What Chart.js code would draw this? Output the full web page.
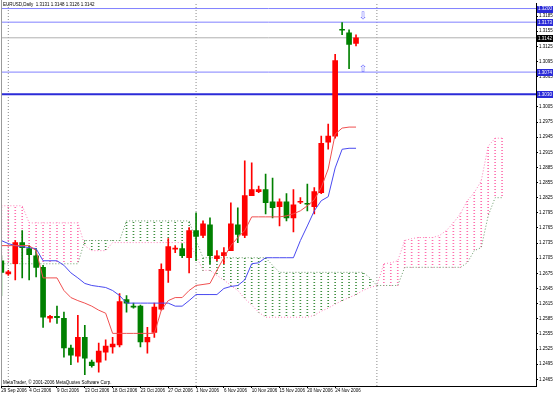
<!DOCTYPE html>
<html>
<head>
  <meta charset="utf-8" />
  <title>EURUSD Daily</title>
  <style>
    html, body { margin: 0; padding: 0; background: #fff; }
    canvas { display: block; }
  </style>
</head>
<body>
  <canvas id="stage" width="553" height="393"></canvas>

  <script src="https://cdn.jsdelivr.net/npm/chart.js@4.4.1/dist/chart.umd.min.js"></script>
  <script>
    // 日足のローソク足 (0 = 29 Sep 2006, 日曜足あり)
    const open  = [1.2700,1.2674,1.2694,1.2736,1.2724,1.2710,1.2687,1.2586,1.2590,1.2586,
                   1.2527,1.2511,1.2548,1.2499,1.2499,1.2519,1.2529,1.2533,1.2623,1.2610,
                   1.2610,1.2539,1.2558,1.2604,1.2681,1.2723,1.2724,1.2706,1.2760,1.2750,
                   1.2771,1.2704,1.2710,1.2720,1.2771,1.2750,1.2829,1.2837,1.2841,1.2817,
                   1.2807,1.2817,1.2785,1.2816,1.2814,1.2807,1.2835,1.2935,1.2947,1.3159,
                   1.3152,1.3131];
    const high  = [1.2710,1.2681,1.2740,1.2760,1.2730,1.2724,1.2691,1.2592,1.2610,1.2598,
                   1.2533,1.2592,1.2572,1.2503,1.2537,1.2543,1.2548,1.2635,1.2631,1.2616,
                   1.2612,1.2568,1.2616,1.2694,1.2744,1.2730,1.2734,1.2766,1.2795,1.2779,
                   1.2785,1.2720,1.2726,1.2815,1.2805,1.2898,1.2894,1.2848,1.2872,1.2864,
                   1.2823,1.2833,1.2841,1.2825,1.2852,1.2845,1.2947,1.2971,1.3109,1.3172,
                   1.3158,1.3148];
    const low   = [1.2631,1.2671,1.2662,1.2666,1.2662,1.2668,1.2568,1.2578,1.2576,1.2509,
                   1.2494,1.2499,1.2474,1.2489,1.2479,1.2503,1.2517,1.2529,1.2598,1.2606,
                   1.2529,1.2517,1.2548,1.2602,1.2657,1.2716,1.2706,1.2676,1.2700,1.2746,
                   1.2694,1.2700,1.2694,1.2720,1.2736,1.2746,1.2829,1.2835,1.2793,1.2785,
                   1.2769,1.2779,1.2757,1.2813,1.2799,1.2793,1.2833,1.2921,1.2943,1.3148,
                   1.3081,1.3126];
    const close = [1.2677,1.2678,1.2736,1.2726,1.2712,1.2687,1.2588,1.2590,1.2587,1.2527,
                   1.2513,1.2548,1.2507,1.2492,1.2521,1.2531,1.2535,1.2619,1.2616,1.2608,
                   1.2539,1.2548,1.2608,1.2683,1.2728,1.2725,1.2710,1.2760,1.2748,1.2773,
                   1.2710,1.2710,1.2716,1.2773,1.2752,1.2829,1.2841,1.2841,1.2815,1.2805,
                   1.2817,1.2785,1.2811,1.2818,1.2812,1.2837,1.2933,1.2947,1.3097,1.3157,
                   1.3129,1.3142];

    // 一目均衡表
    const tenkan = [1.2730,1.2730,1.2730,1.2730,1.2730,1.2720,1.2666,1.2666,1.2666,1.2641,
                    1.2627,1.2621,1.2616,1.2610,1.2602,1.2596,1.2556,1.2556,1.2556,1.2556,
                    1.2556,1.2556,1.2556,1.2602,1.2621,1.2627,1.2627,1.2641,1.2651,1.2653,
                    1.2655,1.2681,1.2706,1.2730,1.2746,1.2760,1.2787,1.2787,1.2787,1.2787,
                    1.2787,1.2789,1.2793,1.2799,1.2809,1.2821,1.2845,1.2882,1.2951,1.2963,
                    1.2965,1.2965];
    const kijun  = [1.2740,1.2734,1.2730,1.2728,1.2726,1.2724,1.2700,1.2700,1.2700,1.2691,
                    1.2676,1.2666,1.2655,1.2651,1.2649,1.2647,1.2641,1.2631,1.2616,1.2616,
                    1.2616,1.2616,1.2616,1.2616,1.2616,1.2610,1.2610,1.2621,1.2633,1.2633,
                    1.2633,1.2633,1.2645,1.2649,1.2651,1.2662,1.2694,1.2696,1.2706,1.2706,
                    1.2706,1.2706,1.2706,1.2740,1.2769,1.2799,1.2819,1.2827,1.2884,1.2921,
                    1.2923,1.2923];
    // 先行スパン (26本先まで)
    const spanA  = [1.2809,1.2809,1.2809,1.2809,1.2775,1.2775,1.2775,1.2775,1.2775,1.2775,
                    1.2775,1.2775,1.2730,1.2720,1.2720,1.2720,1.2736,1.2736,1.2736,1.2736,
                    1.2736,1.2736,1.2736,1.2736,1.2736,1.2736,1.2736,1.2736,1.2710,1.2681,
                    1.2681,1.2671,1.2662,1.2651,1.2641,1.2625,1.2612,1.2598,1.2588,1.2588,
                    1.2588,1.2588,1.2588,1.2588,1.2588,1.2592,1.2600,1.2606,1.2614,1.2621,
                    1.2627,1.2633,1.2641,1.2647,1.2651,1.2694,1.2696,1.2700,1.2740,1.2744,
                    1.2746,1.2746,1.2746,1.2750,1.2760,1.2775,1.2793,1.2819,1.2835,1.2858,
                    1.2927,1.2943,1.2943];
    const spanB  = [1.2694,1.2694,1.2694,1.2694,1.2694,1.2694,1.2694,1.2694,1.2694,1.2694,
                    1.2694,1.2694,1.2740,1.2740,1.2740,1.2740,1.2740,1.2740,1.2779,1.2779,
                    1.2779,1.2779,1.2779,1.2779,1.2779,1.2779,1.2779,1.2779,1.2740,1.2706,
                    1.2706,1.2706,1.2706,1.2706,1.2706,1.2706,1.2706,1.2706,1.2706,1.2691,
                    1.2677,1.2677,1.2677,1.2677,1.2677,1.2677,1.2677,1.2677,1.2677,1.2677,
                    1.2677,1.2677,1.2677,1.2666,1.2651,1.2651,1.2651,1.2651,1.2687,1.2687,
                    1.2687,1.2687,1.2687,1.2687,1.2687,1.2687,1.2687,1.2696,1.2720,1.2726,
                    1.2789,1.2825,1.2825];

    // 軸ラベル
    const xTickIdx    = [0, 4, 8, 12, 16, 20, 24, 28, 32, 36, 40, 44, 48];
    const xTickLabels = ['29 Sep 2006','4 Oct 2006','9 Oct 2006','13 Oct 2006','18 Oct 2006',
                         '23 Oct 2006','27 Oct 2006','1 Nov 2006','6 Nov 2006','10 Nov 2006',
                         '15 Nov 2006','20 Nov 2006','24 Nov 2006'];
    const yTickLabels = ['1.3185','1.3155','1.3125','1.3095','1.3065','1.3005','1.2975','1.2945',
                         '1.2915','1.2885','1.2855','1.2825','1.2795','1.2765','1.2735','1.2705',
                         '1.2675','1.2645','1.2615','1.2585','1.2555','1.2525','1.2495','1.2465'];
    const monthStartIdx = [1, 28, 54];        // 1 Oct, 1 Nov, 1 Dec
    const levelPrices   = [1.3200, 1.3173, 1.3074, 1.3030];
    const bidPrice      = 1.3142;
    const arrowIdx      = [52, 52];
    const arrowPrice    = [1.3184, 1.3079];
    const arrowGlyph    = ['\u21E9', '\u21E7'];

    const X_MIN = -0.05, X_MAX = 76.88;
    const Y_MIN = 1.24517, Y_MAX = 1.32096;
    const UP = '#ff0000', DOWN = '#008000';
    const FONT = '"Liberation Sans", Arial, sans-serif';

    // 縦の点線ハッチ用パターン
    function dotPattern(color) {
      const c = document.createElement('canvas');
      c.width = 1; c.height = 3;
      const g = c.getContext('2d');
      g.fillStyle = color;
      g.fillRect(0, 0, 1, 1);
      return g.createPattern(c, 'repeat');
    }

    const candleColors = open.map((o, i) => close[i] >= o ? UP : DOWN);
    const pts = arr => arr.map((v, i) => ({x: i, y: v}));
    const hline = (v) => [{x: X_MIN - 1, y: v}, {x: X_MAX + 1, y: v}];

    const datasets = [
      {
        type: 'bar', order: 20, grouped: false, barThickness: 1, borderWidth: 0,
        data: spanA.flatMap((a, i) => a > spanB[i] ? [{x: i, y: [spanB[i], a]}] : []),
        backgroundColor: dotPattern('#ff6fae'),
      },
      {
        type: 'bar', order: 20, grouped: false, barThickness: 1, borderWidth: 0,
        data: spanA.flatMap((a, i) => a <= spanB[i] ? [{x: i, y: [a, spanB[i]]}] : []),
        backgroundColor: dotPattern('#3f8f3f'),
      },
      { type: 'line', order: 19, data: pts(spanA), borderColor: '#ff7fb8', borderWidth: 1, borderDash: [1, 2], pointRadius: 0 },
      { type: 'line', order: 19, data: pts(spanB), borderColor: '#6a9a6a', borderWidth: 1, borderDash: [1, 2], pointRadius: 0 },
      ...monthStartIdx.map(m => ({
        type: 'line', order: 18, data: [{x: m, y: Y_MIN}, {x: m, y: Y_MAX}],
        borderColor: '#8a8a8a', borderWidth: 1, borderDash: [1, 2], pointRadius: 0,
      })),
      ...levelPrices.map((v, k) => ({
        type: 'line', order: 17, data: hline(v),
        borderColor: k === 3 ? '#2b2bd8' : '#8080ff', borderWidth: k === 3 ? 2 : 1, pointRadius: 0,
      })),
      { type: 'line', order: 17, data: hline(bidPrice), borderColor: '#b0b0b0', borderWidth: 1, pointRadius: 0 },
      {
        type: 'bar', order: 10, grouped: false, barThickness: 1, borderWidth: 0,
        data: low.map((l, i) => ({x: i, y: [l, high[i]]})),
        backgroundColor: candleColors,
      },
      {
        type: 'bar', order: 9, grouped: false, barThickness: 5, borderWidth: 0, minBarLength: 1,
        data: open.map((o, i) => ({x: i, y: [o, close[i]]})),
        backgroundColor: candleColors,
      },
      { type: 'line', order: 5, data: pts(tenkan), borderColor: '#f05050', borderWidth: 1, pointRadius: 0 },
      { type: 'line', order: 5, data: pts(kijun),  borderColor: '#4a4af0', borderWidth: 1, pointRadius: 0 },
    ];

    const overlay = {
      id: 'overlay',
      afterDraw(chart) {
        const {ctx, chartArea: a, scales: {x, y}} = chart;
        ctx.save();
        ctx.strokeStyle = '#9a9a9a';
        ctx.lineWidth = 1;
        ctx.beginPath();
        ctx.moveTo(a.left + 0.5, 0); ctx.lineTo(a.left + 0.5, a.bottom);
        ctx.stroke();

        ctx.font = '4.5px ' + FONT;
        ctx.textAlign = 'center';
        ctx.textBaseline = 'middle';
        const box = (v, bg) => {
          const py = y.getPixelForValue(v);
          ctx.fillStyle = bg;
          ctx.fillRect(a.right + 1, Math.round(py) - 3, 16, 7);
          ctx.fillStyle = '#fff';
          ctx.fillText(v.toFixed(4), a.right + 9, py + 0.5);
        };
        levelPrices.forEach(v => box(v, '#2b2bd8'));
        box(bidPrice, '#000');

        // 矢印オブジェクト
        ctx.fillStyle = '#6a6aff';
        ctx.font = '10px "DejaVu Sans"';
        arrowIdx.forEach((xi, k) => {
          ctx.fillText(arrowGlyph[k], x.getPixelForValue(xi), y.getPixelForValue(arrowPrice[k]));
        });

        const n = open.length - 1;
        ctx.font = '4.5px ' + FONT;
        ctx.textAlign = 'left';
        ctx.fillStyle = '#000';
        ctx.fillText('EURUSD,Daily  ' + [open[n], high[n], low[n], close[n]].map(v => v.toFixed(4)).join(' '), 3, 4.5);
        ctx.fillText('MetaTrader, \u00A9 2001-2006 MetaQuotes Software Corp.', 3, 382.5);
        ctx.restore();
      }
    };

    new Chart(document.getElementById('stage'), {
      type: 'bar',
      data: { datasets },
      plugins: [overlay],
      options: {
        responsive: false,
        animation: false,
        devicePixelRatio: 1,
        layout: { padding: { left: 1, top: 2, right: 0, bottom: 0 } },
        plugins: { legend: { display: false }, tooltip: { enabled: false } },
        scales: {
          x: {
            type: 'linear', min: X_MIN, max: X_MAX, offset: false,
            grid: { offset: false, drawOnChartArea: false, drawTicks: true, tickLength: 2, color: '#000' },
            border: { display: true, color: '#000' },
            afterBuildTicks: s => { s.ticks = xTickIdx.map(v => ({value: v})); },
            afterFit: s => { s.height = 7; },
            ticks: {
              autoSkip: false, maxRotation: 0, align: 'start', padding: 0,
              font: { family: FONT, size: 4.5 }, color: '#000',
              callback: (v, i) => xTickLabels[i],
            },
          },
          y: {
            type: 'linear', position: 'right', min: Y_MIN, max: Y_MAX,
            grid: { drawOnChartArea: false, drawTicks: true, tickLength: 2, color: '#000' },
            border: { display: true, color: '#000' },
            afterBuildTicks: s => { s.ticks = yTickLabels.map(t => ({value: parseFloat(t)})); },
            afterFit: s => { s.width = 17; },
            ticks: {
              padding: 1, font: { family: FONT, size: 4.5 }, color: '#000',
              callback: (v, i) => yTickLabels[i],
            },
          },
        },
      },
    });
  </script>
</body>
</html>
